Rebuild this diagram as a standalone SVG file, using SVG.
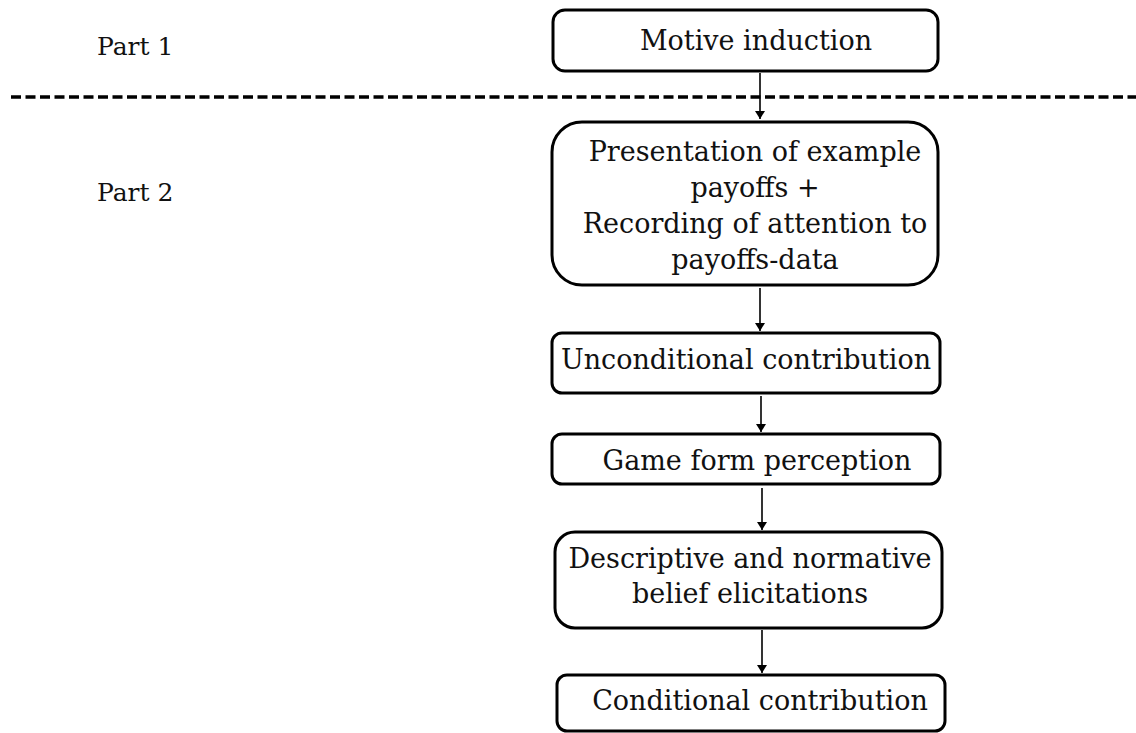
<svg xmlns="http://www.w3.org/2000/svg" width="1136" height="733" viewBox="0 0 1136 733">
<defs>
<marker id="ah" markerWidth="8" markerHeight="10" refX="8" refY="5" orient="auto" markerUnits="userSpaceOnUse">
<path d="M0,0 L8,5 L0,10 Z" fill="#000"/>
</marker>
<style>
.box{fill:#fff;stroke:#000;stroke-width:3}
.t{font-family:"DejaVu Serif","Liberation Serif",serif;font-size:27px;fill:#111;text-anchor:middle}
.lbl{font-family:"DejaVu Serif","Liberation Serif",serif;font-size:25px;fill:#111}
.c{stroke:#000;stroke-width:1.6;fill:none;marker-end:url(#ah)}
</style>
</defs>
<rect width="1136" height="733" fill="#fff"/>
<text class="lbl" x="97" y="55">Part 1</text>
<text class="lbl" x="97" y="201">Part 2</text>
<line x1="11" y1="97" x2="1136" y2="97" stroke="#000" stroke-width="3.5" stroke-dasharray="10,4.5"/>
<g id="connectors">
<line class="c" x1="760" y1="73" x2="760" y2="119"/>
<line class="c" x1="760" y1="288" x2="760" y2="331"/>
<line class="c" x1="761" y1="396" x2="761" y2="432"/>
<line class="c" x1="762" y1="488" x2="762" y2="530"/>
<line class="c" x1="762" y1="630" x2="762" y2="673"/>
</g>
<g id="n1"><rect class="box" x="553" y="10" width="385" height="61" rx="12"/><text class="t" x="756" y="50">Motive induction</text></g>
<g id="n2"><rect class="box" x="552" y="122" width="386" height="163" rx="30"/>
<text class="t" x="755" y="161">Presentation of example</text>
<text class="t" x="755" y="197">payoffs +</text>
<text class="t" x="755" y="233">Recording of attention to</text>
<text class="t" x="755" y="269">payoffs-data</text></g>
<g id="n3"><rect class="box" x="552" y="333" width="388" height="60" rx="10"/><text class="t" x="746" y="369">Unconditional contribution</text></g>
<g id="n4"><rect class="box" x="552" y="434" width="388" height="50" rx="10"/><text class="t" x="757" y="470">Game form perception</text></g>
<g id="n5"><rect class="box" x="555" y="532" width="387" height="96" rx="20"/>
<text class="t" x="750" y="568">Descriptive and normative</text>
<text class="t" x="750" y="603">belief elicitations</text></g>
<g id="n6"><rect class="box" x="557" y="675" width="388" height="56" rx="10"/><text class="t" x="760" y="710">Conditional contribution</text></g>
</svg>
